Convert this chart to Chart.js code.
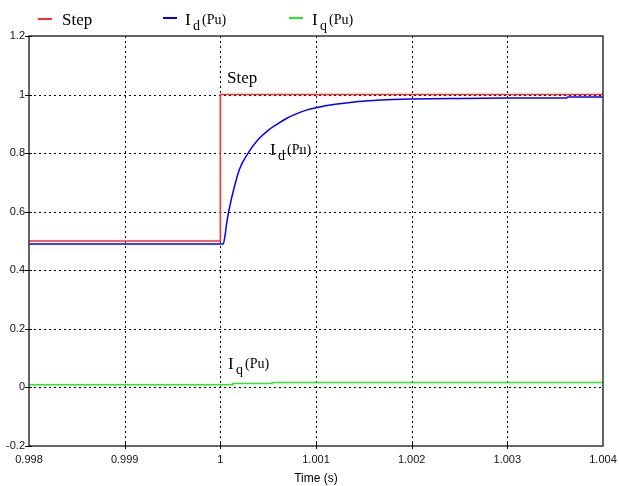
<!DOCTYPE html>
<html lang="pt-BR">
<head>
<meta charset="utf-8">
<title>Step / Id / Iq</title>
<script src="https://cdn.jsdelivr.net/npm/chart.js@4.4.0/dist/chart.umd.min.js"></script>
<style>
  html, body { margin: 0; padding: 0; background: #fff; }
  #chart-wrap { width: 619px; height: 486px; }
</style>
</head>
<body>
<div id="chart-wrap"><canvas id="grafico" width="619" height="486"></canvas></div>
<script>
// --- Dados ---
const xTicks = [0.998, 0.999, 1.000, 1.001, 1.002, 1.003, 1.004];
const xTickLabels = ['0.998', '0.999', '1', '1.001', '1.002', '1.003', '1.004'];
const yTicks = [-0.2, 0, 0.2, 0.4, 0.6, 0.8, 1.0, 1.2];
const yTickLabels = ['-0.2', '0', '0.2', '0.4', '0.6', '0.8', '1', '1.2'];

const stepTime = [0.998, 1.0, 1.0, 1.004];
const stepValue = [0.5, 0.5, 1.0, 1.0];

const idTime = [0.998, 1.00003, 1.00005, 1.000066, 1.0001, 1.000135, 1.0002, 1.0003, 1.0004,
    1.0005, 1.0006, 1.0007, 1.0008, 1.0009, 1.001, 1.0012, 1.0014, 1.0016, 1.0018, 1.002,
    1.0025, 1.003, 1.00362, 1.00363, 1.004];
const idValue = [0.49, 0.49, 0.52, 0.56, 0.62, 0.67, 0.745, 0.805, 0.848,
    0.878, 0.90, 0.92, 0.935, 0.947, 0.955, 0.967, 0.975, 0.98, 0.983, 0.985,
    0.987, 0.988, 0.988, 0.992, 0.992];

const iqTime = [0.998, 1.00013, 1.00013, 1.00054, 1.00054, 1.004];
const iqValue = [0.009, 0.009, 0.013, 0.013, 0.017, 0.017];

const Cores = {
    step: '#ff2a2a',
    id: '#0000ff',
    iq: '#22ee22',
    grid: '#000',
    frame: '#333',
    text: '#000'
};

const serif = '"Liberation Serif", "Times New Roman", serif';
const sans = '"Liberation Sans", Arial, sans-serif';

const toPoints = (xs, ys) => xs.map((t, i) => ({ x: t, y: ys[i] }));

// Desenha "I" com subscrito e "(Pu)"
function desenhaRotulo(ctx, x, yBase, sub) {
    ctx.font = '17px ' + serif;
    ctx.fillText('I', x, yBase);
    ctx.font = '14px ' + serif;
    ctx.fillText(sub, x + 8, yBase + 5);
    ctx.fillText('(Pu)', x + 17, yBase - 1);
}

// Grade pontilhada, moldura, legenda e anotações
const moldura = {
    id: 'moldura',
    beforeDatasetsDraw(chart) {
        const { ctx, chartArea: a, scales: { x, y } } = chart;
        ctx.save();
        ctx.strokeStyle = Cores.grid;
        ctx.lineWidth = 1;
        ctx.setLineDash([2, 3]);
        xTicks.slice(1, -1).forEach(v => {
            const px = Math.round(x.getPixelForValue(v)) + 0.5;
            ctx.beginPath(); ctx.moveTo(px, a.top); ctx.lineTo(px, a.bottom); ctx.stroke();
        });
        yTicks.slice(1, -1).forEach(v => {
            const py = Math.round(y.getPixelForValue(v)) + 0.5;
            ctx.beginPath(); ctx.moveTo(a.left, py); ctx.lineTo(a.right, py); ctx.stroke();
        });
        ctx.restore();
    },
    afterDatasetsDraw(chart) {
        const { ctx, chartArea: a, scales: { x, y } } = chart;
        ctx.save();
        ctx.strokeStyle = Cores.frame;
        ctx.lineWidth = 1.5;
        ctx.strokeRect(a.left, a.top, a.right - a.left, a.bottom - a.top);
        // marcas dos ticks
        ctx.lineWidth = 1;
        ctx.strokeStyle = Cores.grid;
        xTicks.slice(1, -1).forEach(v => {
            const px = Math.round(x.getPixelForValue(v)) + 0.5;
            ctx.beginPath(); ctx.moveTo(px, a.bottom - 3); ctx.lineTo(px, a.bottom + 3); ctx.stroke();
        });
        yTicks.forEach(v => {
            const py = Math.round(y.getPixelForValue(v)) + 0.5;
            ctx.beginPath(); ctx.moveTo(a.left - 4, py); ctx.lineTo(a.left + 3, py); ctx.stroke();
        });
        ctx.restore();
    },
    afterDraw(chart) {
        const { ctx, chartArea: a } = chart;
        ctx.save();
        // legenda
        ctx.lineWidth = 2;
        [[38, 52, 19, Cores.step], [163, 177, 18, Cores.id], [289, 303, 18, Cores.iq]].forEach(([x0, x1, yy, c]) => {
            ctx.strokeStyle = c;
            ctx.beginPath(); ctx.moveTo(x0, yy); ctx.lineTo(x1, yy); ctx.stroke();
        });
        ctx.fillStyle = Cores.text;
        ctx.textBaseline = 'alphabetic';
        ctx.textAlign = 'left';
        ctx.font = '17px ' + serif;
        ctx.fillText('Step', 62, 25);
        desenhaRotulo(ctx, 185, 25, 'd');
        desenhaRotulo(ctx, 312, 25, 'q');

        // anotações nas curvas
        ctx.font = '17px ' + serif;
        ctx.fillText('Step', 227, 83);
        desenhaRotulo(ctx, 270, 155, 'd');
        desenhaRotulo(ctx, 228, 369, 'q');

        // título do eixo x
        ctx.font = '12px ' + sans;
        ctx.textAlign = 'center';
        ctx.textBaseline = 'middle';
        ctx.fillText('Time (s)', (a.left + a.right) / 2, 479);
        ctx.restore();
    }
};

const serie = (data, cor, extra) => Object.assign({
    data,
    borderColor: cor,
    backgroundColor: cor,
    borderWidth: 1.5,
    pointRadius: 0,
    tension: 0,
    fill: false
}, extra);

new Chart(document.getElementById('grafico'), {
    type: 'line',
    data: {
        datasets: [
            serie(toPoints(stepTime, stepValue), Cores.step),
            serie(toPoints(idTime, idValue), Cores.id, { cubicInterpolationMode: 'monotone' }),
            serie(toPoints(iqTime, iqValue), Cores.iq)
        ]
    },
    options: {
        responsive: false,
        animation: false,
        layout: { padding: { top: 36, right: 16, left: 0, bottom: 0 } },
        plugins: { legend: { display: false }, tooltip: { enabled: false } },
        scales: {
            x: {
                type: 'linear',
                min: 0.998,
                max: 1.004,
                grid: { display: false, drawTicks: false },
                border: { display: false },
                afterBuildTicks: (s) => { s.ticks = xTicks.map(v => ({ value: v })); },
                afterFit: (s) => { s.height = 40; s.paddingLeft = 0; s.paddingRight = 0; },
                ticks: {
                    autoSkip: false,
                    maxRotation: 0,
                    padding: 7,
                    color: '#111',
                    font: { family: sans, size: 11 },
                    callback: (v, i) => xTickLabels[i]
                }
            },
            y: {
                min: -0.2,
                max: 1.2,
                grid: { display: false, drawTicks: false },
                border: { display: false },
                afterBuildTicks: (s) => { s.ticks = yTicks.map(v => ({ value: v })); },
                afterFit: (s) => { s.width = 29; s.paddingTop = 0; s.paddingBottom = 0; },
                ticks: {
                    autoSkip: false,
                    padding: 4,
                    color: '#111',
                    font: { family: sans, size: 11 },
                    callback: (v, i) => yTickLabels[i]
                }
            }
        }
    },
    plugins: [moldura]
});
</script>
</body>
</html>
